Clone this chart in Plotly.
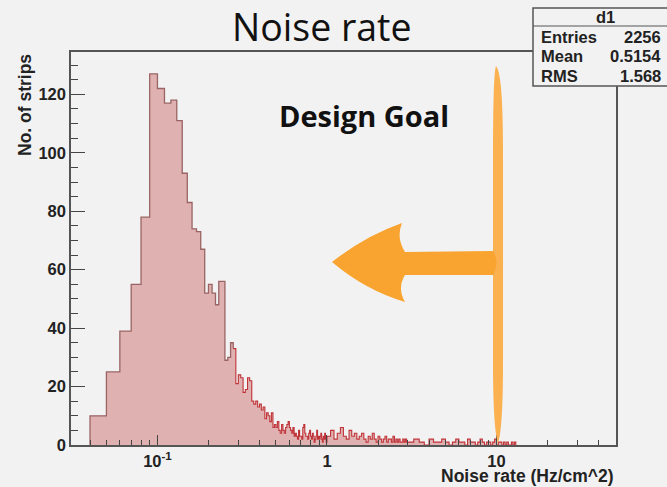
import plotly.graph_objects as go

# ---------------- data ----------------
# main part: bins of width 0.01 starting at 0.04
main_start = 0.04
main_width = 0.01
main_counts = [10, 25, 39, 55, 78, 127, 122, 117, 118, 111,
               93, 83, 74, 73, 67, 52, 55, 52, 48, 56,
               56, 29, 30, 35, 33, 21, 24, 23, 18, 19,
               23, 22, 15, 14, 15, 13, 14, 12, 13, 9,
               11, 10, 8, 11, 6, 7, 6, 8, 5, 4,
               7, 5, 4, 6, 7, 8, 6, 5, 4, 6,
               3, 4, 3, 2, 5, 3, 3, 2, 6, 7,
               4, 3, 3, 2, 4, 5, 3, 2, 4, 3,
               1, 2, 3, 5, 2, 3, 2, 3, 4, 2,
               1, 3, 2, 4, 2, 1]
# tail 1: 1.0 .. 3.0 (displayed spike heights)
tail1_start = 1.0
tail1_width = 0.05
tail1_counts = [3, 5, 2, 4, 6, 3, 2, 5, 3, 4, 2, 3, 4, 2, 1, 3, 2, 4, 2, 1,
                3, 2, 1, 2, 3, 1, 2, 2, 1, 3, 1, 2, 1, 2, 1, 1, 2, 1, 2, 1]
# tail 2: 3.0 .. 13.0
tail2_start = 3.0
tail2_width = 0.25
tail2_counts = [1, 2, 1, 0, 2, 1, 1, 2, 1, 0, 1, 2, 1, 1, 0, 2, 1, 1, 0, 1,
                2, 1, 0, 1, 1, 0, 1, 2, 0, 1, 1, 0, 1, 0, 1, 0, 0, 1, 0, 1]

stats_name = "d1"
stats_labels = ["Entries", "Mean", "RMS"]
stats_values = ["2256", "0.5154", "1.568"]

x_major_vals = [0.1, 1, 10]
x_major_text = ["10<sup>-1</sup>", "1", "10"]
x_minor_vals = [0.04, 0.05, 0.06, 0.07, 0.08, 0.09,
                0.2, 0.3, 0.4, 0.5, 0.6, 0.7, 0.8, 0.9,
                2, 3, 4, 5, 6, 7, 8, 9, 20, 30, 40]


def segment(start, width, counts):
    edges = [round(start + width * i, 4) for i in range(len(counts) + 1)]
    return edges, counts


xs, ys = [], []
for st, w, c in [(main_start, main_width, main_counts),
                 (tail1_start, tail1_width, tail1_counts),
                 (tail2_start, tail2_width, tail2_counts)]:
    e, cnt = segment(st, w, c)
    for i, v in enumerate(cnt):
        xs.append(e[i])
        ys.append(v)
    last_edge = e[-1]
xs_step = [xs[0]] + xs + [last_edge, last_edge]
ys_step = [0] + ys + [ys[-1], 0]

split = 0.28
xs_a = [x for x in xs_step if x <= split + 1e-9]
ys_a = ys_step[:len(xs_a)]
xs_b = xs_step[len(xs_a) - 1:]
ys_b = ys_step[len(xs_a) - 1:]

fig = go.Figure()
fig.add_trace(go.Scatter(x=xs_step, y=ys_step, mode="lines", line_shape="hv",
                         fill="tozeroy", fillcolor="#e0b1b1",
                         line=dict(width=0), hoverinfo="skip", showlegend=False))
fig.add_trace(go.Scatter(x=xs_a, y=ys_a, mode="lines", line_shape="hv",
                         line=dict(color="#9a6464", width=1.3), showlegend=False))
fig.add_trace(go.Scatter(x=xs_b, y=ys_b, mode="lines", line_shape="hv",
                         line=dict(color="#c03338", width=1.1), showlegend=False))

# ---------------- layout helpers ----------------
L, R, T, B = 71, 616, 52, 445


def px(x):
    return (x - L) / (R - L)


def py(y):
    return (B - y) / (B - T)


def path(points_cmds):
    out = []
    for cmd, pts in points_cmds:
        s = cmd
        s += " ".join(f"{px(a):.4f},{py(b):.4f}" for a, b in pts)
        out.append(s)
    return " ".join(out) + " Z"


bar_path = path([
    ("M", [(496, 66)]),
    ("C", [(501, 72), (503, 100), (503, 160)]),
    ("L", [(503, 360)]),
    ("C", [(503, 410), (501, 435), (498, 443)]),
    ("C", [(495, 435), (493, 410), (493, 360)]),
    ("L", [(493, 160)]),
    ("C", [(493, 100), (494, 72), (496, 66)]),
])
arrow_path = path([
    ("M", [(332, 262)]),
    ("Q", [(365, 236), (402, 223)]),
    ("Q", [(396, 238), (405, 252)]),
    ("L", [(493, 251)]),
    ("Q", [(500, 263), (493, 275)]),
    ("L", [(405, 275)]),
    ("Q", [(397, 288), (405, 302)]),
    ("Q", [(365, 290), (332, 262)]),
])

shapes = [
    dict(type="path", xref="paper", yref="paper", path=bar_path,
         fillcolor="#fbb14f", line=dict(width=0), layer="above"),
    dict(type="path", xref="paper", yref="paper", path=arrow_path,
         fillcolor="#f9a431", line=dict(width=0), layer="above"),
    dict(type="rect", xref="paper", yref="paper",
         x0=px(533), x1=px(672), y0=py(86), y1=py(8),
         fillcolor="#f2f2f2", line=dict(color="#555555", width=1.5), layer="above"),
    dict(type="line", xref="paper", yref="paper",
         x0=px(533), x1=px(672), y0=py(26), y1=py(26),
         line=dict(color="#555555", width=1.2), layer="above"),
]

lab_font = dict(family="Liberation Sans, Arial, sans-serif", size=17.5, color="#222222")
stat_font = dict(family="Liberation Sans, Arial, sans-serif", size=16.5, color="#222222")
annotations = [
    dict(text="Noise rate", x=px(322), y=py(27), xref="paper", yref="paper",
         showarrow=False, xanchor="center", yanchor="middle",
         font=dict(family="Open Sans, sans-serif", size=37.5, color="#111111")),
    dict(text="<b>Design Goal</b>", x=px(364), y=py(115), xref="paper", yref="paper",
         showarrow=False, xanchor="center", yanchor="middle",
         font=dict(family="Open Sans, sans-serif", size=29, color="#111111")),
    dict(text="<b>Noise rate (Hz/cm^2)</b>", x=px(616), y=py(476), xref="paper", yref="paper",
         showarrow=False, xanchor="right", yanchor="middle", font=lab_font),
    dict(text="<b>No. of strips</b>", x=px(25), y=py(52), xref="paper", yref="paper",
         showarrow=False, xanchor="center", yanchor="top", textangle=-90, font=lab_font),
    dict(text=f"<b>{stats_name}</b>", x=px(605), y=py(17), xref="paper", yref="paper",
         showarrow=False, xanchor="center", yanchor="middle", font=stat_font),
]
for i, (lab, val) in enumerate(zip(stats_labels, stats_values)):
    yy = 37 + 19.5 * i
    annotations.append(dict(text=f"<b>{lab}</b>", x=px(539), y=py(yy), xref="paper",
                            yref="paper", showarrow=False, xanchor="left",
                            yanchor="middle", font=stat_font))
    annotations.append(dict(text=f"<b>{val}</b>", x=px(663), y=py(yy), xref="paper",
                            yref="paper", showarrow=False, xanchor="right",
                            yanchor="middle", font=stat_font))

tick_font = dict(family="Liberation Sans, Arial, sans-serif", size=16.5, color="#222222")
fig.update_layout(
    width=667, height=487,
    margin=dict(l=L, r=667 - R, t=T, b=487 - B),
    paper_bgcolor="#f2f2f2", plot_bgcolor="#f2f2f2",
    showlegend=False,
    shapes=shapes, annotations=annotations,
    xaxis=dict(type="log", range=[-1.51, 1.705], showgrid=False, zeroline=False,
               showline=True, mirror=True, linecolor="#555555", linewidth=1.5,
               ticks="inside", ticklen=10, tickcolor="#444444", tickwidth=1,
               tickmode="array", tickvals=x_major_vals,
               ticktext=[f"<b>{t}</b>" for t in x_major_text],
               tickfont=tick_font,
               minor=dict(ticks="inside", ticklen=5, tickcolor="#444444",
                          tickmode="array", tickvals=x_minor_vals)),
    yaxis=dict(range=[0, 134.5], showgrid=False, zeroline=False,
               showline=True, mirror=True, linecolor="#555555", linewidth=1.5,
               ticks="inside", ticklen=14, tickcolor="#444444", tickwidth=1,
               dtick=20, tick0=0, tickfont=tick_font,
               tickprefix="<b>", ticksuffix="</b>",
               minor=dict(ticks="inside", ticklen=7, tickcolor="#444444", dtick=5)),
)

fig.write_html("out.html",
               config={"displayModeBar": False},
               post_script="document.body.style.margin='0';"
                           "document.body.style.background='#f2f2f2';")
